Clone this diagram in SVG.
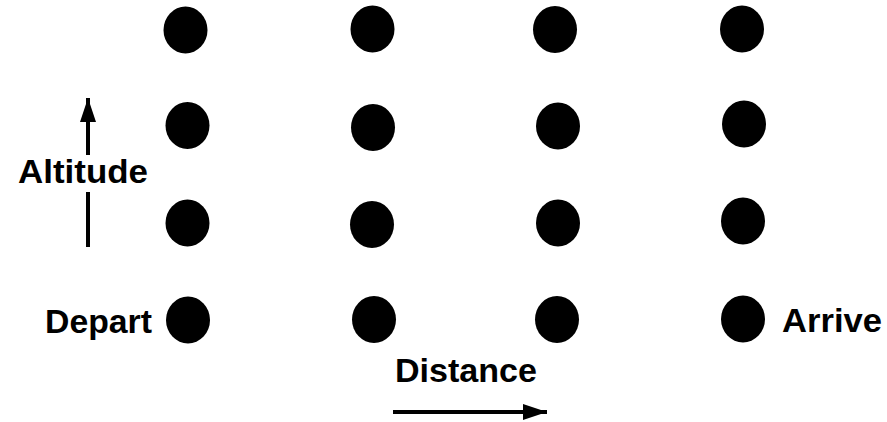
<svg xmlns="http://www.w3.org/2000/svg" width="887" height="422" viewBox="0 0 887 422">
<style>
.dot{fill:#000}
.lbl{font-family:"Liberation Sans",Arial,sans-serif;font-weight:bold;font-size:34px;fill:#000}
.ax{stroke:#000;stroke-width:4;fill:none}
</style>
<defs>
<marker id="ah" markerUnits="userSpaceOnUse" markerWidth="26" markerHeight="16" refX="24" refY="8" orient="auto">
<path d="M0,0 L24,8 L0,16 Z" fill="#000"/>
</marker>
</defs>
<rect width="887" height="422" fill="#fff"/>
<g id="nodes">
<g id="n11"><ellipse class="dot" cx="185.5" cy="30" rx="22" ry="23.5"/></g>
<g id="n12"><ellipse class="dot" cx="372.5" cy="29" rx="22" ry="23.5"/></g>
<g id="n13"><ellipse class="dot" cx="555" cy="29.5" rx="22" ry="23.5"/></g>
<g id="n14"><ellipse class="dot" cx="742" cy="29" rx="22" ry="23.5"/></g>
<g id="n21"><ellipse class="dot" cx="187.5" cy="125.5" rx="22" ry="23.5"/></g>
<g id="n22"><ellipse class="dot" cx="373" cy="127.5" rx="22" ry="23.5"/></g>
<g id="n23"><ellipse class="dot" cx="558" cy="126" rx="22" ry="23.5"/></g>
<g id="n24"><ellipse class="dot" cx="744" cy="124" rx="22" ry="23.5"/></g>
<g id="n31"><ellipse class="dot" cx="187.5" cy="223" rx="22" ry="23.5"/></g>
<g id="n32"><ellipse class="dot" cx="372" cy="224.5" rx="22" ry="23.5"/></g>
<g id="n33"><ellipse class="dot" cx="558" cy="223" rx="22" ry="23.5"/></g>
<g id="n34"><ellipse class="dot" cx="743" cy="221" rx="22" ry="23.5"/></g>
<g id="depart"><ellipse class="dot" cx="188" cy="320" rx="22" ry="23.5"/><text class="lbl" x="45" y="333" textLength="107" lengthAdjust="spacingAndGlyphs">Depart</text></g>
<g id="n42"><ellipse class="dot" cx="374" cy="319.5" rx="22" ry="23.5"/></g>
<g id="n43"><ellipse class="dot" cx="557" cy="319.5" rx="22" ry="23.5"/></g>
<g id="arrive"><ellipse class="dot" cx="743" cy="319" rx="22" ry="23.5"/><text class="lbl" x="782" y="332" textLength="100" lengthAdjust="spacingAndGlyphs">Arrive</text></g>
</g>
<g id="connectors">
<line class="ax" x1="88" y1="155" x2="88" y2="98" marker-end="url(#ah)"/>
<line class="ax" x1="88" y1="192" x2="88" y2="247"/>
<line class="ax" x1="393" y1="412" x2="547" y2="412" marker-end="url(#ah)"/>
</g>
<g id="labels">
<text class="lbl" x="18" y="183" textLength="130" lengthAdjust="spacingAndGlyphs">Altitude</text>
<text class="lbl" x="395" y="382" textLength="142" lengthAdjust="spacingAndGlyphs">Distance</text>
</g>
</svg>
